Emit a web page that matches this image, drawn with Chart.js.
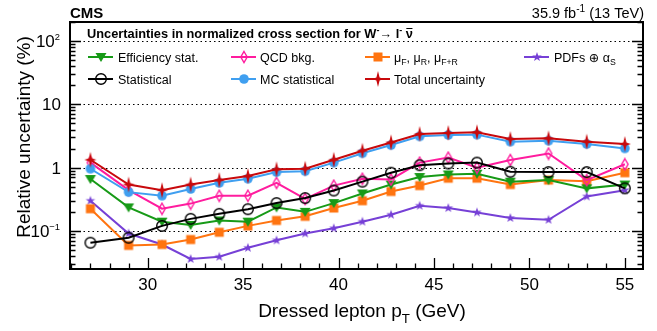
<!DOCTYPE html>
<html>
<head>
<meta charset="utf-8">
<script src="https://cdn.jsdelivr.net/npm/chart.js@4.4.1/dist/chart.umd.min.js"></script>
<style>
	html, body { margin: 0; padding: 0; background: #fff; }
	canvas { display: block; }
</style>
</head>
<body>
<canvas id="chart" width="657" height="331"></canvas>
<script>
(function () {
	'use strict';

	// bin centres in dressed lepton pT (GeV)
	const ptBins = [27, 29, 30.75, 32.25, 33.75, 35.25, 36.75, 38.25, 39.75, 41.25, 42.75, 44.25, 45.75, 47.25, 49, 51, 53, 55];

	// relative uncertainties (%)
	const effStat = [0.66, 0.235, 0.14, 0.124, 0.146, 0.14, 0.235, 0.2, 0.275, 0.39, 0.54, 0.71, 0.78, 0.8, 0.6, 0.635, 0.47, 0.54];
	const qcdBkg = [1.2, 0.44, 0.224, 0.27, 0.36, 0.36, 0.575, 0.32, 0.52, 0.667, 0.65, 1.2, 1.44, 1.0, 1.32, 1.67, 0.635, 1.13];
	const scaleUnc = [0.224, 0.059, 0.061, 0.073, 0.095, 0.12, 0.146, 0.17, 0.23, 0.30, 0.42, 0.52, 0.68, 0.68, 0.54, 0.635, 0.61, 0.83];
	const pdfAlphaS = [0.30, 0.091, 0.061, 0.036, 0.039, 0.054, 0.071, 0.091, 0.11, 0.14, 0.18, 0.25, 0.23, 0.196, 0.16, 0.15, 0.35, 0.44];
	const statistical = [0.065, 0.078, 0.12, 0.155, 0.186, 0.22, 0.275, 0.33, 0.434, 0.6, 0.83, 1.09, 1.16, 1.2, 0.86, 0.85, 0.85, 0.47];
	const mcStat = [0.96, 0.41, 0.36, 0.46, 0.575, 0.667, 0.85, 0.88, 1.2, 1.69, 2.27, 3.12, 3.28, 3.32, 2.57, 2.66, 2.36, 2.01];
	const totalUnc = [1.33, 0.54, 0.44, 0.54, 0.635, 0.735, 0.94, 0.96, 1.33, 1.85, 2.5, 3.4, 3.53, 3.62, 2.83, 2.9, 2.57, 2.36];

	const xTickValues = [30, 35, 40, 45, 50, 55];
	const yTickValues = [0.1, 1, 10, 100];
	// [base, exponent] per y tick label
	const yTickLabels = [['10', '\u22121'], ['1', ''], ['10', ''], ['10', '2']];

	const FONT = '"Liberation Sans", Arial, "DejaVu Sans", sans-serif';
	const C = {
		green: '#179a17', pink: '#ff1c9e', orange: '#ff7410', purple: '#7640d6',
		black: '#000000', blue: '#3f9ff0', red: '#c8090c'
	};

	function makeMarker(size, draw) {
		const c = document.createElement('canvas');
		c.width = size; c.height = size;
		const g = c.getContext('2d');
		draw(g, size / 2);
		return c;
	}

	function starPath(g, cx, cy, n, rOut, rIn) {
		g.beginPath();
		for (let i = 0; i < n * 2; i++) {
			const r = i % 2 === 0 ? rOut : rIn;
			const a = -Math.PI / 2 + i * Math.PI / n;
			const px = cx + r * Math.cos(a);
			const py = cy + r * Math.sin(a);
			if (i === 0) g.moveTo(px, py); else g.lineTo(px, py);
		}
		g.closePath();
	}

	const markers = {
		eff: makeMarker(14, (g, c) => {
			g.fillStyle = C.green;
			g.beginPath(); g.moveTo(c - 5.5, c - 4); g.lineTo(c + 5.5, c - 4); g.lineTo(c, c + 5); g.closePath(); g.fill();
		}),
		qcd: makeMarker(14, (g, c) => {
			g.strokeStyle = C.pink; g.lineWidth = 1.4;
			g.beginPath(); g.moveTo(c, c - 5.5); g.lineTo(c + 3.2, c); g.lineTo(c, c + 5.5); g.lineTo(c - 3.2, c); g.closePath(); g.stroke();
		}),
		scale: makeMarker(12, (g, c) => {
			g.fillStyle = C.orange; g.fillRect(c - 4.5, c - 4.5, 9, 9);
		}),
		pdf: makeMarker(12, (g, c) => {
			g.fillStyle = C.purple; starPath(g, c, c, 5, 5, 2); g.fill();
		}),
		stat: makeMarker(14, (g, c) => {
			g.strokeStyle = C.black; g.lineWidth = 1.4;
			g.beginPath(); g.arc(c, c, 5.3, 0, Math.PI * 2); g.stroke();
		}),
		mc: makeMarker(12, (g, c) => {
			g.fillStyle = C.blue; g.beginPath(); g.arc(c, c, 4.8, 0, Math.PI * 2); g.fill();
		}),
		total: makeMarker(18, (g, c) => {
			g.fillStyle = C.red;
			g.beginPath();
			g.moveTo(c, c - 8); g.lineTo(c + 1.6, c - 1.6); g.lineTo(c + 6, c); g.lineTo(c + 1.6, c + 1.6);
			g.lineTo(c, c + 8); g.lineTo(c - 1.6, c + 1.6); g.lineTo(c - 6, c); g.lineTo(c - 1.6, c - 1.6);
			g.closePath(); g.fill();
		})
	};

	function series(label, values, color, marker) {
		return {
			label,
			data: values.map((v, i) => ({ x: ptBins[i], y: v })),
			borderColor: color,
			backgroundColor: color,
			borderWidth: 2,
			pointStyle: marker,
			pointRadius: 5,
			pointHoverRadius: 5,
			tension: 0
		};
	}

	const datasets = [
		series('Total uncertainty', totalUnc, C.red, markers.total),
		series('MC statistical', mcStat, C.blue, markers.mc),
		series('Statistical', statistical, C.black, markers.stat),
		series('QCD bkg.', qcdBkg, C.pink, markers.qcd),
		series('Efficiency stat.', effStat, C.green, markers.eff),
		series('scale', scaleUnc, C.orange, markers.scale),
		series('PDFs', pdfAlphaS, C.purple, markers.pdf)
	];

	// text with sub/superscripts: parts = [[text, mode], ...]
	function richWidth(ctx, parts, size, bold, k) {
		let w = 0;
		for (const [t, mode] of parts) {
			const s = mode ? size * (k || 0.7) : size;
			ctx.font = (bold ? 'bold ' : '') + s + 'px ' + FONT;
			w += ctx.measureText(t).width;
		}
		return w;
	}
	function drawRich(ctx, x, y, parts, size, bold, k) {
		ctx.textAlign = 'left';
		ctx.textBaseline = 'alphabetic';
		for (const [t, mode] of parts) {
			const s = mode ? size * (k || 0.7) : size;
			ctx.font = (bold ? 'bold ' : '') + s + 'px ' + FONT;
			const dy = mode === 'sub' ? size * 0.3 : mode === 'sup' ? -size * 0.42 : 0;
			ctx.fillText(t, x, y + dy);
			x += ctx.measureText(t).width;
		}
		return x;
	}

	const legendItems = [
		{ m: markers.eff, color: C.green, x: 88, tx: 118, y: 57, parts: [['Efficiency stat.', '']] },
		{ m: markers.qcd, color: C.pink, x: 231, tx: 260, y: 57, parts: [['QCD bkg.', '']] },
		{ m: markers.scale, color: C.orange, x: 365, tx: 394, y: 57, parts: [['\u03BC', ''], ['F', 'sub'], [', \u03BC', ''], ['R', 'sub'], [', \u03BC', ''], ['F+R', 'sub']] },
		{ m: markers.pdf, color: C.purple, x: 524, tx: 554, y: 57, parts: [['PDFs \u2295 \u03B1', ''], ['S', 'sub']] },
		{ m: markers.stat, color: C.black, x: 88, tx: 118, y: 79, parts: [['Statistical', '']] },
		{ m: markers.mc, color: C.blue, x: 231, tx: 260, y: 79, parts: [['MC statistical', '']] },
		{ m: markers.total, color: C.red, x: 365, tx: 394, y: 79, parts: [['Total uncertainty', '']] }
	];

	const decorPlugin = {
		id: 'decor',
		beforeDatasetsDraw(chart) {
			const { ctx, chartArea: a, scales } = chart;
			ctx.save();
			ctx.strokeStyle = '#000';
			ctx.lineWidth = 1.2;
			ctx.setLineDash([1.5, 3]);
			for (const v of yTickValues) {
				const y = Math.round(scales.y.getPixelForValue(v)) + 0.5;
				ctx.beginPath(); ctx.moveTo(a.left, y); ctx.lineTo(a.right, y); ctx.stroke();
			}
			ctx.restore();
		},
		afterDraw(chart) {
			const { ctx, chartArea: a, scales } = chart;
			ctx.save();
			ctx.fillStyle = '#000';
			ctx.strokeStyle = '#000';

			// inner tick marks
			ctx.lineWidth = 1.3;
			ctx.beginPath();
			for (let v = Math.ceil(scales.x.min); v <= scales.x.max; v++) {
				const x = Math.round(scales.x.getPixelForValue(v)) + 0.5;
				const len = v % 5 === 0 ? 11 : 5.5;
				ctx.moveTo(x, a.bottom); ctx.lineTo(x, a.bottom - len);
			}
			for (let d = -2; d <= 2; d++) {
				for (let m = 1; m <= 9; m++) {
					const v = m * Math.pow(10, d);
					if (v < scales.y.min || v > scales.y.max) continue;
					const y = Math.round(scales.y.getPixelForValue(v)) + 0.5;
					const len = m === 1 ? 11 : 5.5;
					ctx.moveTo(a.left, y); ctx.lineTo(a.left + len, y);
					ctx.moveTo(a.right, y); ctx.lineTo(a.right - len, y);
				}
			}
			ctx.stroke();

			// frame
			ctx.lineWidth = 2;
			ctx.strokeRect(a.left, a.top, a.right - a.left, a.bottom - a.top);

			// y tick labels with exponents, placed by the log scale
			yTickValues.forEach((v, i) => {
				const [base, exp] = yTickLabels[i];
				const y = scales.y.getPixelForValue(v) + 6;
				const parts = exp ? [[base, ''], [exp, 'sup']] : [[base, '']];
				const right = exp ? 60 : 61;
				drawRich(ctx, right - richWidth(ctx, parts, 17, false, 0.55), y, parts, 17, false, 0.55);
			});

			// header
			ctx.font = 'bold 15px ' + FONT;
			ctx.textAlign = 'left';
			ctx.textBaseline = 'alphabetic';
			ctx.fillText('CMS', 70, 18);
			const lumi = [['35.9 fb', ''], ['-1', 'sup'], [' (13 TeV)', '']];
			drawRich(ctx, 644 - richWidth(ctx, lumi, 14.5, false), 18, lumi, 14.5, false);

			// inner title
			const x = drawRich(ctx, 87, 38, [['Uncertainties in normalized cross section for W', ''], ['-', 'sup'], ['\u2192 l', ''], ['-', 'sup'], [' ', '']], 12.8, true);
			ctx.font = 'bold 12.8px ' + FONT;
			const nuW = ctx.measureText('\u03BD').width;
			ctx.fillText('\u03BD', x, 38);
			ctx.lineWidth = 1;
			ctx.beginPath(); ctx.moveTo(x + 0.5, 28.5); ctx.lineTo(x + nuW - 0.5, 28.5); ctx.stroke();

			// legend
			for (const it of legendItems) {
				ctx.strokeStyle = it.color;
				ctx.lineWidth = 2;
				ctx.beginPath(); ctx.moveTo(it.x, it.y); ctx.lineTo(it.x + 25, it.y); ctx.stroke();
				ctx.drawImage(it.m, Math.round(it.x + 12.5 - it.m.width / 2), Math.round(it.y - it.m.height / 2));
				ctx.fillStyle = '#000';
				drawRich(ctx, it.tx, it.y + 4.5, it.parts, 12.5, false);
			}

			// axis titles
			const xt = [['Dressed lepton p', ''], ['T', 'sub'], [' (GeV)', '']];
			drawRich(ctx, 362 - richWidth(ctx, xt, 19, false) / 2, 317, xt, 19, false);
			ctx.save();
			ctx.translate(25, 137);
			ctx.rotate(-Math.PI / 2);
			ctx.font = '19px ' + FONT;
			ctx.textAlign = 'center';
			ctx.textBaseline = 'middle';
			ctx.fillText('Relative uncertainty (%)', 0, 0);
			ctx.restore();

			ctx.restore();
		}
	};

	new Chart(document.getElementById('chart'), {
		type: 'line',
		data: { datasets },
		options: {
			responsive: false,
			animation: false,
			events: [],
			layout: { padding: { top: 22, right: 14, left: 0, bottom: 0 } },
			plugins: { legend: { display: false }, tooltip: { enabled: false } },
			scales: {
				x: {
					type: 'linear',
					min: 25.93,
					max: 55.95,
					grid: { display: false, drawTicks: false },
					border: { display: false },
					afterFit(scale) { scale.height = 62; },
					afterBuildTicks(scale) { scale.ticks = xTickValues.map(v => ({ value: v })); },
					ticks: { padding: 6, color: '#000', font: { family: FONT, size: 17 }, maxRotation: 0, autoSkip: false, callback: v => String(v) }
				},
				y: {
					type: 'logarithmic',
					min: 0.025,
					max: 200,
					grid: { display: false, drawTicks: false },
					border: { display: false },
					afterFit(scale) { scale.width = 70; },
					afterBuildTicks(scale) { scale.ticks = yTickValues.map(v => ({ value: v })); },
					ticks: { display: false }
				}
			}
		},
		plugins: [decorPlugin]
	});
})();
</script>
</body>
</html>
